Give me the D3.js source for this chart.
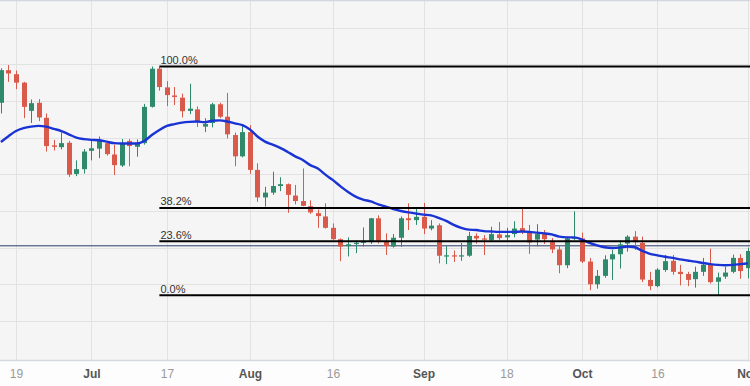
<!DOCTYPE html>
<html><head><meta charset="utf-8">
<script src="https://cdn.jsdelivr.net/npm/d3@7"></script>
<style>html,body{margin:0;padding:0;background:#fff;} svg{display:block;}</style>
</head><body><svg id="chart" width="750" height="386"></svg>
<script>
// ---- data (AUD/USD style daily candles, 2023) ----
const dates = [
"2023-06-15","2023-06-16","2023-06-19","2023-06-20","2023-06-21","2023-06-22","2023-06-23","2023-06-26","2023-06-27","2023-06-28",
"2023-06-29","2023-06-30","2023-07-03","2023-07-04","2023-07-05","2023-07-06","2023-07-07","2023-07-10","2023-07-11","2023-07-12",
"2023-07-13","2023-07-14","2023-07-17","2023-07-18","2023-07-19","2023-07-20","2023-07-21","2023-07-24","2023-07-25","2023-07-26",
"2023-07-27","2023-07-28","2023-07-31","2023-08-01","2023-08-02","2023-08-03","2023-08-04","2023-08-07","2023-08-08","2023-08-09",
"2023-08-10","2023-08-11","2023-08-14","2023-08-15","2023-08-16","2023-08-17","2023-08-18","2023-08-21","2023-08-22","2023-08-23",
"2023-08-24","2023-08-25","2023-08-28","2023-08-29","2023-08-30","2023-08-31","2023-09-01","2023-09-04","2023-09-05","2023-09-06",
"2023-09-07","2023-09-08","2023-09-11","2023-09-12","2023-09-13","2023-09-14","2023-09-15","2023-09-18","2023-09-19","2023-09-20",
"2023-09-21","2023-09-22","2023-09-25","2023-09-26","2023-09-27","2023-09-28","2023-09-29","2023-10-02","2023-10-03","2023-10-04",
"2023-10-05","2023-10-06","2023-10-09","2023-10-10","2023-10-11","2023-10-12","2023-10-13","2023-10-16","2023-10-17","2023-10-18",
"2023-10-19","2023-10-20","2023-10-23","2023-10-24","2023-10-25","2023-10-26","2023-10-27","2023-10-30","2023-10-31","2023-11-01"];

const openValues = [
0.6795,0.6884,0.6873,0.6850,0.6773,0.6795,0.6754,0.6679,0.6674,0.6686,
0.6601,0.6614,0.6664,0.6670,0.6685,0.6654,0.6624,0.6691,0.6675,0.6685,
0.6784,0.6888,0.6837,0.6815,0.6809,0.6773,0.6777,0.6730,0.6740,0.6791,
0.6757,0.6707,0.6649,0.6715,0.6612,0.6537,0.6550,0.6568,0.6573,0.6542,
0.6527,0.6513,0.6494,0.6485,0.6454,0.6423,0.6404,0.6410,0.6413,0.6415,
0.6480,0.6417,0.6403,0.6427,0.6480,0.6475,0.6484,0.6452,0.6461,0.6377,
0.6379,0.6376,0.6378,0.6432,0.6425,0.6421,0.6436,0.6428,0.6437,0.6453,
0.6445,0.6422,0.6438,0.6415,0.6395,0.6352,0.6424,0.6425,0.6362,0.6300,
0.6323,0.6368,0.6382,0.6411,0.6430,0.6413,0.6312,0.6295,0.6339,0.6364,
0.6334,0.6328,0.6314,0.6334,0.6353,0.6307,0.6321,0.6334,0.6372,0.6344];

const highValues = [
0.6889,0.6898,0.6883,0.6852,0.6804,0.6805,0.6766,0.6694,0.6714,0.6691,
0.6638,0.6669,0.6695,0.6703,0.6691,0.6681,0.6696,0.6696,0.6695,0.6792,
0.6894,0.6893,0.6854,0.6838,0.6820,0.6847,0.6785,0.6753,0.6795,0.6795,
0.6822,0.6714,0.6732,0.6734,0.6630,0.6566,0.6607,0.6592,0.6575,0.6571,
0.6616,0.6529,0.6504,0.6521,0.6466,0.6425,0.6428,0.6419,0.6455,0.6481,
0.6488,0.6439,0.6437,0.6485,0.6521,0.6506,0.6522,0.6475,0.6466,0.6404,
0.6392,0.6413,0.6443,0.6439,0.6434,0.6457,0.6470,0.6454,0.6472,0.6507,
0.6462,0.6464,0.6448,0.6426,0.6407,0.6430,0.6499,0.6441,0.6372,0.6339,
0.6379,0.6394,0.6420,0.6434,0.6445,0.6430,0.6334,0.6344,0.6380,0.6380,
0.6353,0.6334,0.6348,0.6372,0.6397,0.6332,0.6348,0.6381,0.6382,0.6400];

const lowValues = [
0.6766,0.6852,0.6832,0.6753,0.6740,0.6745,0.6662,0.6665,0.6668,0.6593,
0.6595,0.6602,0.6638,0.6644,0.6651,0.6598,0.6620,0.6622,0.6648,0.6681,
0.6782,0.6828,0.6786,0.6789,0.6755,0.6764,0.6729,0.6715,0.6728,0.6753,
0.6698,0.6622,0.6646,0.6601,0.6525,0.6512,0.6544,0.6554,0.6495,0.6518,
0.6513,0.6492,0.6454,0.6452,0.6421,0.6363,0.6376,0.6385,0.6403,0.6410,
0.6411,0.6380,0.6400,0.6402,0.6448,0.6462,0.6437,0.6447,0.6357,0.6355,
0.6361,0.6364,0.6375,0.6411,0.6380,0.6416,0.6421,0.6418,0.6428,0.6437,
0.6383,0.6403,0.6410,0.6385,0.6330,0.6344,0.6421,0.6358,0.6284,0.6288,
0.6318,0.6312,0.6343,0.6389,0.6394,0.6306,0.6284,0.6292,0.6334,0.6326,
0.6297,0.6295,0.6291,0.6323,0.6302,0.6271,0.6315,0.6330,0.6315,0.6316];

const closeValues = [
0.6884,0.6875,0.6850,0.6784,0.6794,0.6755,0.6677,0.6675,0.6685,0.6599,
0.6614,0.6662,0.6671,0.6691,0.6655,0.6625,0.6684,0.6677,0.6686,0.6784,
0.6888,0.6838,0.6816,0.6811,0.6772,0.6779,0.6743,0.6737,0.6791,0.6757,
0.6709,0.6649,0.6715,0.6612,0.6537,0.6550,0.6568,0.6573,0.6544,0.6527,
0.6514,0.6496,0.6486,0.6454,0.6423,0.6403,0.6409,0.6413,0.6418,0.6480,
0.6419,0.6404,0.6427,0.6480,0.6475,0.6484,0.6452,0.6460,0.6378,0.6379,
0.6376,0.6379,0.6432,0.6425,0.6422,0.6437,0.6426,0.6434,0.6452,0.6443,
0.6414,0.6437,0.6423,0.6395,0.6352,0.6425,0.6428,0.6362,0.6300,0.6323,
0.6368,0.6382,0.6409,0.6430,0.6415,0.6313,0.6295,0.6340,0.6363,0.6334,
0.6328,0.6312,0.6334,0.6353,0.6306,0.6319,0.6332,0.6372,0.6336,0.6391];

const maValues = [
0.6688,0.6704,0.6718,0.6726,0.6730,0.6732,0.6730,0.6724,0.6718,0.6709,
0.6700,0.6696,0.6694,0.6693,0.6689,0.6685,0.6684,0.6684,0.6684,0.6691,
0.6707,0.6721,0.6732,0.6737,0.6741,0.6743,0.6744,0.6742,0.6746,0.6747,
0.6744,0.6739,0.6734,0.6722,0.6703,0.6689,0.6681,0.6672,0.6661,0.6649,
0.6639,0.6625,0.6616,0.6599,0.6584,0.6567,0.6552,0.6539,0.6531,0.6526,
0.6518,0.6512,0.6505,0.6500,0.6496,0.6493,0.6490,0.6488,0.6481,0.6473,
0.6462,0.6454,0.6449,0.6448,0.6445,0.6444,0.6443,0.6443,0.6443,0.6444,
0.6443,0.6441,0.6439,0.6436,0.6430,0.6428,0.6428,0.6422,0.6413,0.6406,
0.6401,0.6399,0.6400,0.6403,0.6401,0.6391,0.6383,0.6379,0.6375,0.6372,
0.6368,0.6365,0.6362,0.6358,0.6355,0.6353,0.6352,0.6353,0.6355,0.6357];

const tickDates  = ["2023-06-19","2023-07-03","2023-07-17","2023-08-01","2023-08-16","2023-09-01","2023-09-18","2023-10-02","2023-10-16","2023-11-01"];
const tickLabels = ["19","Jul","17","Aug","16","Sep","18","Oct","16","Nov"];
const tickIsMonth = [false,true,false,true,false,true,false,true,false,true];

const gridPrices = [0.62,0.63,0.64,0.65,0.66,0.67,0.68,0.69,0.70];

const fibHigh = 0.6894, fibLow = 0.6270, fibStartDate = "2023-07-14";
const fibRatios = [1, 0.382, 0.236, 0];
const fibLabels = ["100.0%","38.2%","23.6%","0.0%"];
const lastPrice = 0.6405;

// ---- drawing ----
const W = 750, H = 386, plotBottom = 360;
const svg = d3.select("#chart");
const x = d3.scalePoint().domain(dates).range([0.9, 748]);
const y = d3.scaleLinear().domain([0.63, 0.69]).range([284.3, 64.3]);

svg.append("rect").attr("x",0).attr("y",0).attr("width",W).attr("height",H).attr("fill","#fdfdfd");
svg.append("rect").attr("x",0).attr("y",0).attr("width",W).attr("height",plotBottom).attr("fill","#f5f5f5");

svg.append("defs").append("clipPath").attr("id","plotclip")
  .append("rect").attr("x",0).attr("y",0).attr("width",W).attr("height",plotBottom);

const plot = svg.append("g").attr("clip-path","url(#plotclip)");

// grid
plot.append("g").selectAll("line").data(gridPrices).join("line")
  .attr("x1",0).attr("x2",W)
  .attr("y1",d=>Math.round(y(d))+0.5).attr("y2",d=>Math.round(y(d))+0.5)
  .attr("stroke","#e2e2e2").attr("stroke-width",1);
plot.append("g").selectAll("line").data(tickDates).join("line")
  .attr("x1",d=>Math.round(x(d))+0.5).attr("x2",d=>Math.round(x(d))+0.5)
  .attr("y1",0).attr("y2",plotBottom)
  .attr("stroke","#e2e2e2").attr("stroke-width",1);

// top border
svg.append("line").attr("x1",0).attr("x2",W).attr("y1",0.5).attr("y2",0.5)
  .attr("stroke","#d3d6e0").attr("stroke-width",1.5);

// last price line
plot.append("line").attr("x1",0).attr("x2",W)
  .attr("y1",y(lastPrice)).attr("y2",y(lastPrice))
  .attr("stroke","#2c3b66").attr("stroke-width",1);

// candles
const candles = dates.map((d,i)=>({date:d, o:openValues[i], h:highValues[i], l:lowValues[i], c:closeValues[i]}));
const up = "#2e8a6b", down = "#d9594a";
const bw = 5;
const cg = plot.append("g").selectAll("g").data(candles).join("g");
cg.append("line")
  .attr("x1",d=>Math.round(x(d.date))+0.5).attr("x2",d=>Math.round(x(d.date))+0.5)
  .attr("y1",d=>y(d.h)).attr("y2",d=>y(d.l))
  .attr("stroke",d=>d.c>=d.o?up:down).attr("stroke-width",1);
cg.append("rect")
  .attr("x",d=>Math.round(x(d.date))+0.5-bw/2)
  .attr("y",d=>y(Math.max(d.o,d.c)))
  .attr("width",bw)
  .attr("height",d=>Math.max(1.2, Math.abs(y(d.o)-y(d.c))))
  .attr("fill",d=>d.c>=d.o?up:down);

// moving average
const line = d3.line().x((d,i)=>x(dates[i])).y(d=>y(d)).curve(d3.curveMonotoneX);
plot.append("path").datum(maValues).attr("d",line)
  .attr("fill","none").attr("stroke","#1a33d4").attr("stroke-width",2.4)
  .attr("stroke-linejoin","round");

// fibonacci levels
const fx = x(fibStartDate);
const fibG = plot.append("g");
fibRatios.forEach((r,i)=>{
  const p = fibLow + (fibHigh-fibLow)*r;
  const yy = y(p);
  fibG.append("line").attr("x1",fx).attr("x2",W).attr("y1",yy).attr("y2",yy)
    .attr("stroke","#000").attr("stroke-width",2);
  fibG.append("text").attr("x",fx+1).attr("y",yy-2.5)
    .attr("font-family","'Liberation Sans', Arial, sans-serif").attr("font-size",11)
    .attr("fill","#333").text(fibLabels[i]);
});

// x axis
svg.append("line").attr("x1",0).attr("x2",W).attr("y1",plotBottom+0.5).attr("y2",plotBottom+0.5)
  .attr("stroke","#d6d9e1").attr("stroke-width",1.5);
const xAxis = d3.axisBottom(x).tickValues(tickDates)
  .tickFormat((d,i)=>tickLabels[i]).tickSize(0).tickPadding(9);
const ax = svg.append("g").attr("transform",`translate(0,${plotBottom})`).call(xAxis);
ax.select(".domain").remove();
ax.selectAll("text")
  .attr("font-family","'Liberation Sans', Arial, sans-serif").attr("font-size",12)
  .attr("font-weight",(d,i)=>tickIsMonth[i]?"bold":"normal")
  .attr("fill",(d,i)=>tickIsMonth[i]?"#555":"#999");
</script>
</body></html>
